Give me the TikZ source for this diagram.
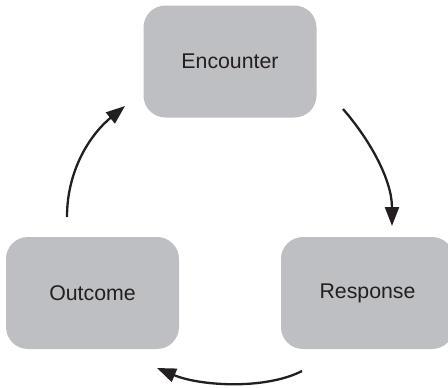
\documentclass[tikz,border=0pt]{standalone}
\usepackage{fontspec}
\setmainfont{Liberation Sans}
\usetikzlibrary{arrows.meta}
\definecolor{boxgray}{RGB}{190,191,194}
\definecolor{ink}{RGB}{35,31,32}
\begin{document}
\begin{tikzpicture}[x=1pt,y=-1pt,
  stage/.style={fill=boxgray, rounded corners=22pt, minimum width=173pt, minimum height=112pt,
    inner sep=0pt, text=ink, font=\fontsize{21.3}{25}\selectfont},
  flow/.style={draw=ink, line width=2.3pt, -{Triangle[length=19pt,width=14pt]}}]
\useasboundingbox (0,0) rectangle (448,388);
\node[stage] (enc) at (230,61.5) {Encounter};
\node[stage] (res) at (367.5,293) {Response};
\node[stage] (out) at (92.5,293) {Outcome};
\coordinate (oe1) at (67,217);
\coordinate (oe2) at (125,106);
\coordinate (er1) at (343,109);
\coordinate (er2) at (392,226);
\coordinate (ro1) at (302,371);
\coordinate (ro2) at (157,368);
\draw[flow] (oe1) .. controls (67,168) and (92,133) .. (oe2);
\draw[flow] (er1) .. controls (370,140) and (392,180) .. (er2);
\draw[flow] (ro1) .. controls (265,390) and (200,386) .. (ro2);
\end{tikzpicture}
\end{document}
